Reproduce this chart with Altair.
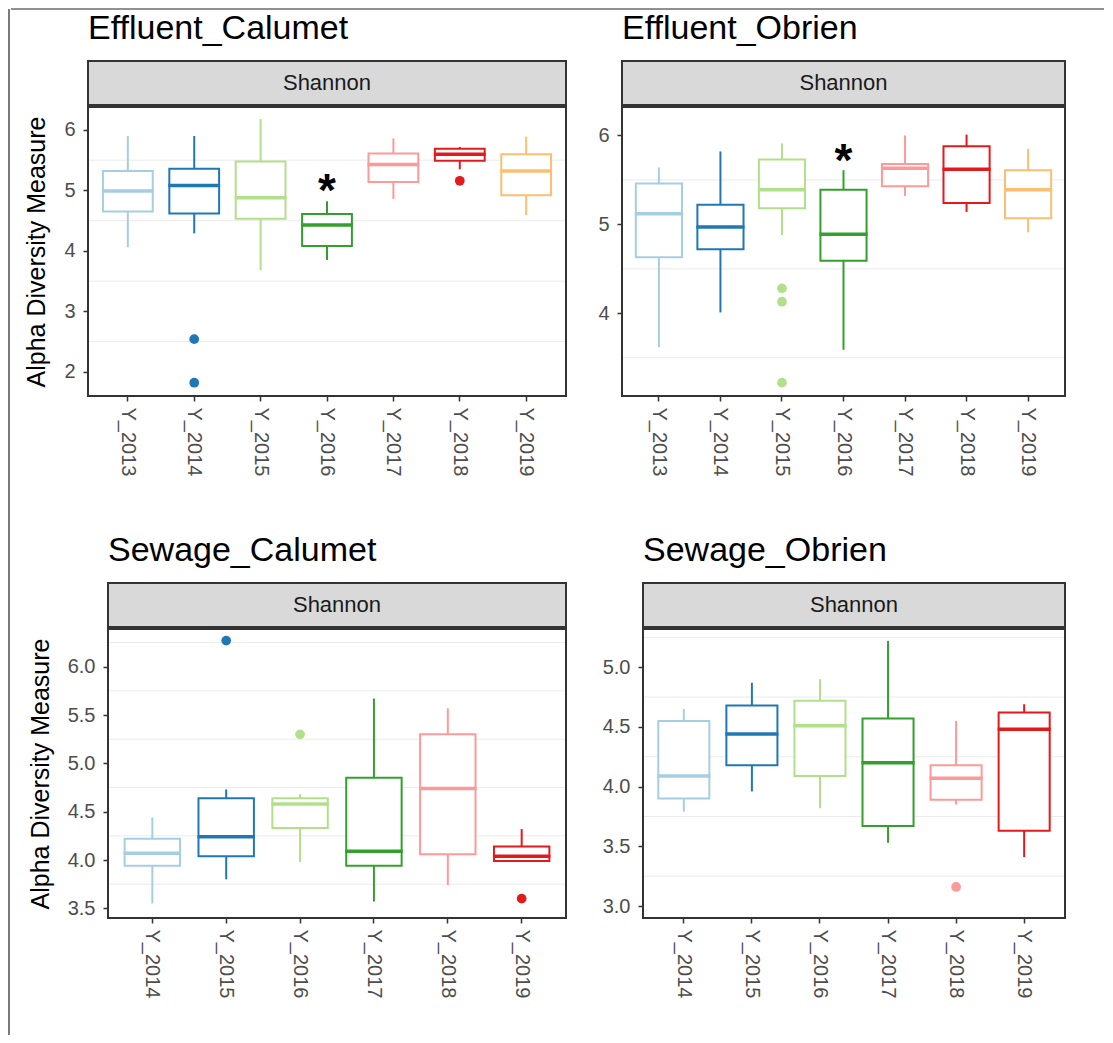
import altair as alt
import pandas as pd

FONT = "Liberation Sans"
PAIRED = ["#A6CEE3", "#1F78B4", "#B2DF8A", "#33A02C", "#FB9A99", "#E31A1C", "#FDBF6F"]
PLOT_H = 289
STRIP_H = 44

# --- Effluent_Calumet ---
ec_years = ["Y_2013", "Y_2014", "Y_2015", "Y_2016", "Y_2017", "Y_2018", "Y_2019"]
ec_low = [4.06, 4.29, 3.68, 3.85, 4.86, 5.35, 4.59]
ec_q1 = [4.65, 4.62, 4.53, 4.08, 5.14, 5.49, 4.92]
ec_med = [4.99, 5.08, 4.88, 4.43, 5.43, 5.60, 5.32]
ec_q3 = [5.32, 5.36, 5.48, 4.61, 5.61, 5.69, 5.60]
ec_high = [5.90, 5.90, 6.18, 4.82, 5.86, 5.72, 5.89]
ec_out_year = ["Y_2014", "Y_2014", "Y_2018"]
ec_out_val = [2.54, 1.82, 5.16]
ec_star_year = ["Y_2016"]
ec_star_val = [5.14]

# --- Effluent_Obrien ---
eo_years = ["Y_2013", "Y_2014", "Y_2015", "Y_2016", "Y_2017", "Y_2018", "Y_2019"]
eo_low = [3.62, 4.01, 4.88, 3.59, 5.32, 5.14, 4.91]
eo_q1 = [4.63, 4.72, 5.18, 4.59, 5.43, 5.24, 5.07]
eo_med = [5.12, 4.97, 5.39, 4.89, 5.63, 5.62, 5.39]
eo_q3 = [5.46, 5.22, 5.73, 5.39, 5.68, 5.88, 5.61]
eo_high = [5.64, 5.82, 5.91, 5.61, 6.00, 6.01, 5.85]
eo_out_year = ["Y_2015", "Y_2015", "Y_2015"]
eo_out_val = [4.28, 4.13, 3.22]
eo_star_year = ["Y_2016"]
eo_star_val = [5.81]

# --- Sewage_Calumet ---
sc_years = ["Y_2014", "Y_2015", "Y_2016", "Y_2017", "Y_2018", "Y_2019"]
sc_low = [3.55, 3.80, 3.98, 3.57, 3.74, 3.98]
sc_q1 = [3.94, 4.04, 4.33, 3.94, 4.06, 3.99]
sc_med = [4.07, 4.24, 4.58, 4.09, 4.74, 4.04]
sc_q3 = [4.22, 4.64, 4.64, 4.85, 5.30, 4.14]
sc_high = [4.44, 4.73, 4.68, 5.67, 5.57, 4.32]
sc_out_year = ["Y_2015", "Y_2016", "Y_2019"]
sc_out_val = [6.27, 5.30, 3.60]

# --- Sewage_Obrien ---
so_years = ["Y_2014", "Y_2015", "Y_2016", "Y_2017", "Y_2018", "Y_2019"]
so_low = [3.79, 3.96, 3.82, 3.53, 3.85, 3.41]
so_q1 = [3.90, 4.18, 4.09, 3.67, 3.89, 3.63]
so_med = [4.09, 4.44, 4.51, 4.20, 4.07, 4.48]
so_q3 = [4.55, 4.68, 4.72, 4.57, 4.18, 4.62]
so_high = [4.65, 4.87, 4.90, 5.22, 4.55, 4.69]
so_out_year = ["Y_2018"]
so_out_val = [3.16]


def panel(name, years, low, q1, med, q3, high, out_year, out_val,
          star_year, star_val, domain, tick_vals, grid_vals, fmt, width, ytitle,
          shift=0):
    # shift: blank space left of the visible panel (the axis is moved in with it)
    n = len(years)
    step = width / (n - 0.25 + 0.45)
    cmap = dict(zip(years, PAIRED[:n]))
    box = pd.DataFrame(dict(year=years, low=low, q1=q1, med=med, q3=q3, high=high))
    box["c"] = box["year"].map(cmap)
    outl = pd.DataFrame(dict(year=out_year, val=out_val))
    outl["c"] = outl["year"].map(cmap)

    yscale = alt.Scale(domain=domain, nice=False, zero=False)
    yaxis = alt.Axis(
        values=tick_vals, format=fmt, grid=False, domain=False, offset=-shift,
        tickColor="#333333", tickSize=5, tickWidth=1.5,
        labelColor="#4D4D4D", labelFontSize=20, labelFont=FONT, labelPadding=8,
        title=ytitle, titleFont=FONT, titleFontSize=25, titleFontWeight="normal",
        titleColor="black", titlePadding=14,
    )
    xenc = alt.X(
        "year:N", sort=years, title=None,
        scale=alt.Scale(domain=years, paddingInner=0.25, paddingOuter=0.225,
                        range=[shift, shift + width]),
        axis=alt.Axis(labelAngle=90, domain=False, tickColor="#333333", tickSize=5,
                      tickWidth=1.5, labelColor="#4D4D4D", labelFontSize=20,
                      labelFont=FONT, labelPadding=6),
    )
    col = alt.Color("c:N", scale=None, legend=None)
    stroke = alt.Stroke("c:N", scale=None, legend=None)

    grid = alt.Chart(pd.DataFrame({"g": grid_vals})).mark_rule(
        color="#EBEBEB", strokeWidth=1
    ).encode(y=alt.Y("g:Q", scale=yscale, axis=yaxis),
             x=alt.value(shift), x2=alt.value(shift + width))

    base = alt.Chart(box)
    lower = base.mark_rule(strokeWidth=2).encode(
        x=xenc, y=alt.Y("low:Q", scale=yscale, axis=yaxis), y2="q1:Q", color=col)
    upper = base.mark_rule(strokeWidth=2).encode(
        x=xenc, y=alt.Y("q3:Q", scale=yscale, axis=yaxis), y2="high:Q", color=col)
    boxes = base.mark_bar(fill="white", strokeWidth=2).encode(
        x=xenc, y=alt.Y("q1:Q", scale=yscale, axis=yaxis), y2="q3:Q", stroke=stroke)
    median = base.mark_tick(thickness=3.5, size=step * 0.75 + 2, opacity=1).encode(
        x=xenc, y=alt.Y("med:Q", scale=yscale, axis=yaxis), color=col)
    pts = alt.Chart(outl).mark_circle(size=95, opacity=1).encode(
        x=xenc, y=alt.Y("val:Q", scale=yscale, axis=yaxis), color=col)

    frame = alt.Chart(pd.DataFrame({"f": [0]})).mark_rect(
        fill=None, stroke="#333333", strokeWidth=2
    ).encode(x=alt.value(shift), x2=alt.value(shift + width),
             y=alt.value(0), y2=alt.value(PLOT_H))

    layers = [grid, lower, upper, boxes, median, pts]
    if star_year:
        stars = alt.Chart(pd.DataFrame(dict(year=star_year, val=star_val))).mark_text(
            text="*", fontSize=46, fontWeight="bold", font=FONT, color="black",
            baseline="middle", dy=10,
        ).encode(x=xenc, y=alt.Y("val:Q", scale=yscale, axis=yaxis))
        layers.append(stars)
    layers.append(frame)

    plot = alt.layer(*layers).properties(
        width=width + shift, height=PLOT_H,
        view=alt.ViewBackground(stroke=None),
    )

    strip_bg = alt.Chart(pd.DataFrame({"f": [0]})).mark_rect(
        fill="#D9D9D9", stroke="#333333", strokeWidth=2
    ).encode(x=alt.value(shift), x2=alt.value(shift + width),
             y=alt.value(0), y2=alt.value(STRIP_H))
    strip_txt = alt.Chart(pd.DataFrame({"s": ["Shannon"]})).mark_text(
        font=FONT, fontSize=22, color="#1A1A1A"
    ).encode(text="s:N", x=alt.value(shift + width / 2), y=alt.value(STRIP_H / 2))
    strip = alt.layer(strip_bg, strip_txt).properties(
        width=width + shift, height=STRIP_H,
        view=alt.ViewBackground(stroke=None),
        title=alt.TitleParams(name, anchor="start", frame="group", font=FONT, dx=shift,
                              fontSize=34, fontWeight="normal", color="black", offset=14),
    )
    return alt.vconcat(strip, plot, spacing=0)


p1 = panel("Effluent_Calumet", ec_years, ec_low, ec_q1, ec_med, ec_q3, ec_high,
           ec_out_year, ec_out_val, ec_star_year, ec_star_val,
           [1.6, 6.38], [2, 3, 4, 5, 6], [2.5, 3.5, 4.5, 5.5], "d", 478,
           "Alpha Diversity Measure")
p2 = panel("Effluent_Obrien", eo_years, eo_low, eo_q1, eo_med, eo_q3, eo_high,
           eo_out_year, eo_out_val, eo_star_year, eo_star_val,
           [3.07, 6.32], [4, 5, 6], [3.5, 4.5, 5.5], "d", 443, None)
p3 = panel("Sewage_Calumet", sc_years, sc_low, sc_q1, sc_med, sc_q3, sc_high,
           sc_out_year, sc_out_val, [], [],
           [3.40, 6.39], [3.5, 4.0, 4.5, 5.0, 5.5, 6.0],
           [3.75, 4.25, 4.75, 5.25, 5.75, 6.25], ".1f", 458,
           "Alpha Diversity Measure", shift=20)
p4 = panel("Sewage_Obrien", so_years, so_low, so_q1, so_med, so_q3, so_high,
           so_out_year, so_out_val, [], [],
           [2.90, 5.32], [3.0, 3.5, 4.0, 4.5, 5.0],
           [3.25, 3.75, 4.25, 4.75, 5.25], ".1f", 422, None)

row1 = alt.hconcat(p1, p2, spacing=30)
row2 = alt.hconcat(p3, p4, spacing=35)

# thin figure border: top edge as its own row, left edge as its own column
edge = pd.DataFrame({"f": [0]})
top_edge = alt.Chart(edge).mark_rule(color="#222222", strokeWidth=1.2).encode(
    x=alt.value(-77), x2=alt.value(1016), y=alt.value(0)
).properties(width=478, height=1, view=alt.ViewBackground(stroke=None))
left_edge = alt.Chart(edge).mark_rule(color="#222222", strokeWidth=1.2).encode(
    x=alt.value(0), y=alt.value(0), y2=alt.value(1026)
).properties(width=1, height=1026, view=alt.ViewBackground(stroke=None))

main = alt.vconcat(alt.vconcat(top_edge, row1, spacing=2), row2, spacing=58)

chart = alt.hconcat(left_edge, main, spacing=0).properties(
    padding={"left": 0, "top": 0, "right": 0, "bottom": 0},
    background="white",
)

chart.save("out.html", embed_options={"renderer": "svg", "actions": False})
